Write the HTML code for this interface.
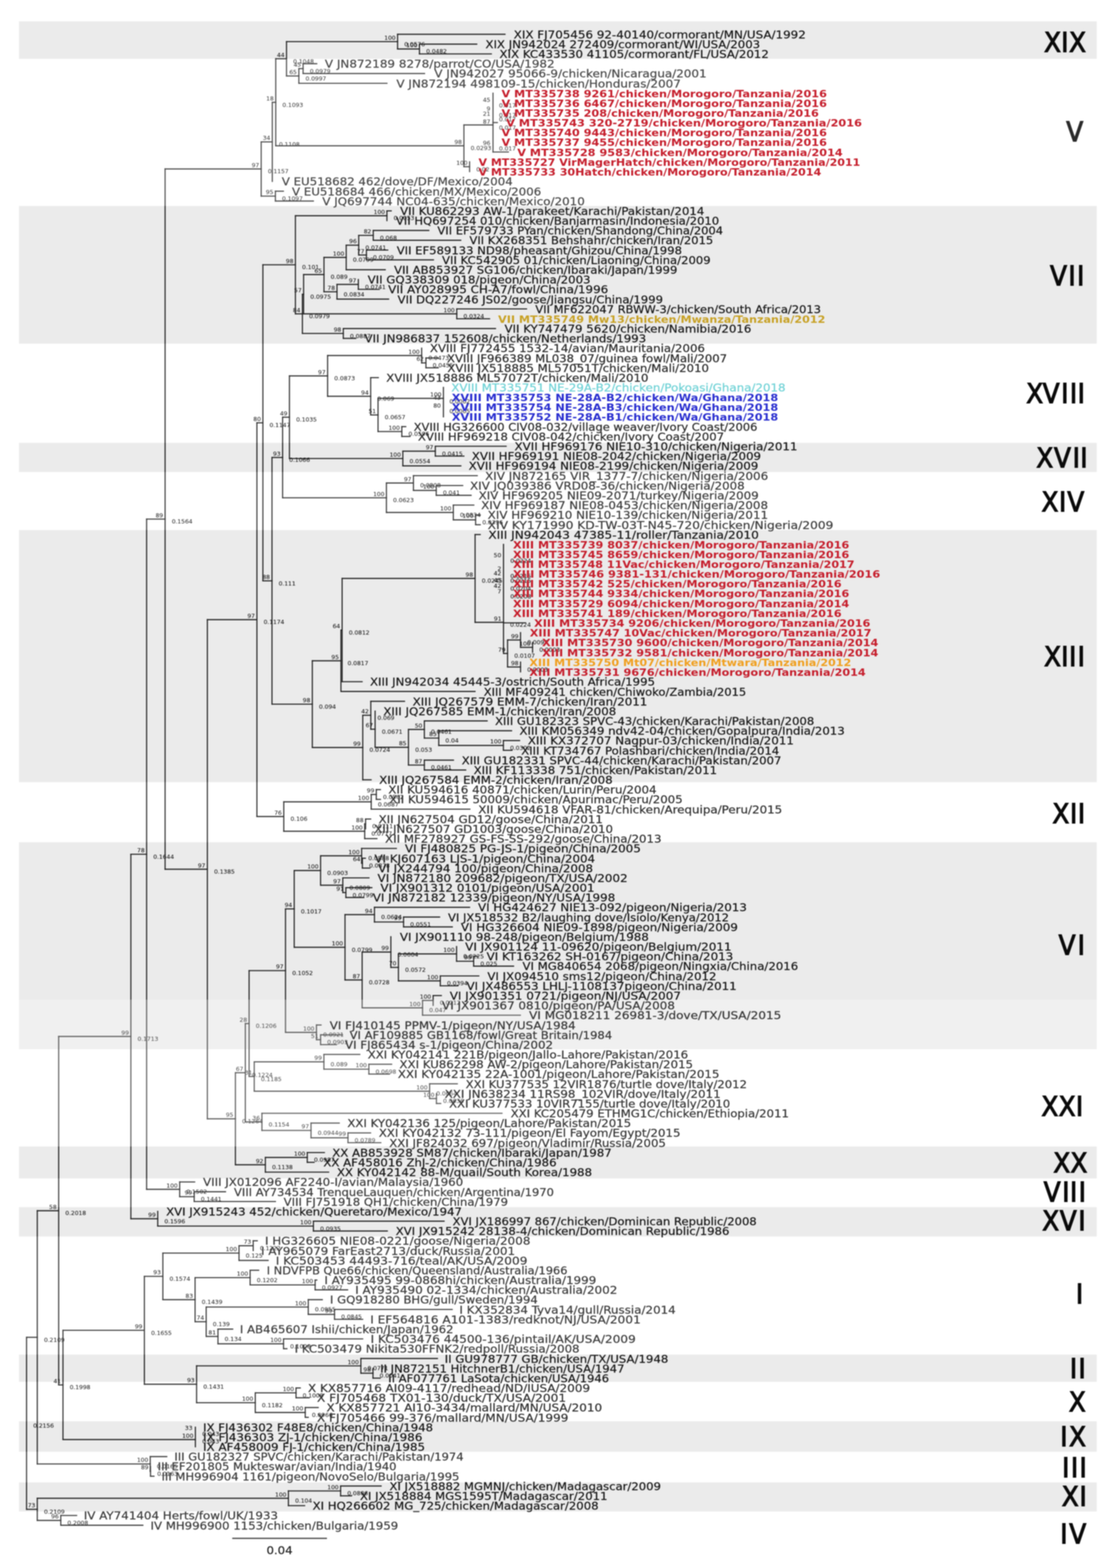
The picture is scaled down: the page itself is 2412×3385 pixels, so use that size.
<!DOCTYPE html>
<html lang="en"><head><meta charset="utf-8"><title>Phylogenetic tree</title>
<style>html,body{margin:0;padding:0;background:#fff}body{width:2412px;height:3385px;overflow:hidden}svg{display:block}
text{font-family:"DejaVu Sans","Liberation Sans",sans-serif}.g text{font-family:"DejaVu Sans Condensed","DejaVu Sans","Liberation Sans",sans-serif}
.l{font-size:22.2px;stroke-width:0.5px}.b{font-size:21.4px;font-weight:bold}.s{font-size:12.8px;fill:#1c1c1c;stroke:#1c1c1c;stroke-width:0.15px}.g{font-size:59.2px;fill:#0a0a0a;stroke:#0a0a0a;stroke-width:2.1px;stroke-linejoin:miter}
.t line{stroke:#222;stroke-width:2.4;stroke-linecap:square}
</style></head><body>
<svg width="2412" height="3385" viewBox="0 0 2412 3385">
<defs><filter id="bl" x="-8" y="-8" width="2428" height="3401" filterUnits="userSpaceOnUse" color-interpolation-filters="sRGB"><feGaussianBlur stdDeviation="0.8"/></filter></defs>
<g filter="url(#bl)">
<rect x="-8" y="-8" width="2428" height="3401" fill="#fff"/>
<g>
<rect x="41" y="46" width="2327.2" height="81" fill="#ebebeb"/>
<rect x="41" y="444.6" width="2327.2" height="297.2" fill="#ebebeb"/>
<rect x="41" y="956" width="2327.2" height="63" fill="#ebebeb"/>
<rect x="41" y="1144.3" width="2327.2" height="544.2" fill="#ebebeb"/>
<rect x="41" y="1818.3" width="2327.2" height="446.7" fill="#ebebeb"/>
<rect x="41" y="2475" width="2327.2" height="69" fill="#ebebeb"/>
<rect x="41" y="2606" width="2327.2" height="63.3" fill="#ebebeb"/>
<rect x="41" y="2924.3" width="2327.2" height="58.7" fill="#ebebeb"/>
<rect x="41" y="3068.3" width="2327.2" height="65.7" fill="#ebebeb"/>
<rect x="41" y="3200.3" width="2327.2" height="62.7" fill="#ebebeb"/>
</g>
<g class="t">
<line x1="57.3" y1="2887.0" x2="57.3" y2="3258.3"/>
<line x1="57.3" y1="2887.0" x2="80.5" y2="2887.0"/>
<line x1="80.5" y1="2613.7" x2="80.5" y2="3160.4"/>
<line x1="80.5" y1="2613.7" x2="126.7" y2="2613.7"/>
<line x1="126.7" y1="2237.5" x2="126.7" y2="2989.8"/>
<line x1="126.7" y1="2237.5" x2="282.6" y2="2237.5"/>
<line x1="282.6" y1="1844.1" x2="282.6" y2="2631.0"/>
<line x1="282.6" y1="1844.1" x2="316.6" y2="1844.1"/>
<line x1="316.6" y1="1120.6" x2="316.6" y2="2567.5"/>
<line x1="316.6" y1="1120.6" x2="356.5" y2="1120.6"/>
<line x1="356.5" y1="364.8" x2="356.5" y2="1876.5"/>
<line x1="356.5" y1="364.8" x2="564.0" y2="364.8"/>
<line x1="564.0" y1="306.3" x2="564.0" y2="423.4"/>
<line x1="564.0" y1="306.3" x2="588.0" y2="306.3"/>
<line x1="588.0" y1="220.9" x2="588.0" y2="391.6"/>
<line x1="588.0" y1="220.9" x2="595.4" y2="220.9"/>
<line x1="595.4" y1="126.9" x2="595.4" y2="314.8"/>
<line x1="595.4" y1="126.9" x2="618.7" y2="126.9"/>
<line x1="618.7" y1="89.9" x2="618.7" y2="164.0"/>
<line x1="618.7" y1="89.9" x2="858.5" y2="89.9"/>
<line x1="858.5" y1="74.0" x2="858.5" y2="105.8"/>
<line x1="858.5" y1="74.0" x2="1090.5" y2="74.0"/>
<line x1="858.5" y1="105.8" x2="905.8" y2="105.8"/>
<line x1="905.8" y1="95.2" x2="905.8" y2="116.4"/>
<line x1="905.8" y1="95.2" x2="1029.5" y2="95.2"/>
<line x1="905.8" y1="116.4" x2="1061.0" y2="116.4"/>
<line x1="618.7" y1="164.0" x2="645.3" y2="164.0"/>
<line x1="645.3" y1="148.1" x2="645.3" y2="179.9"/>
<line x1="645.3" y1="148.1" x2="654.5" y2="148.1"/>
<line x1="654.5" y1="137.5" x2="654.5" y2="158.7"/>
<line x1="654.5" y1="137.5" x2="684.0" y2="137.5"/>
<line x1="654.5" y1="158.7" x2="916.8" y2="158.7"/>
<line x1="645.3" y1="179.9" x2="835.6" y2="179.9"/>
<line x1="595.4" y1="314.8" x2="1001.8" y2="314.8"/>
<line x1="1001.8" y1="269.8" x2="1001.8" y2="359.9"/>
<line x1="1001.8" y1="269.8" x2="1064.6" y2="269.8"/>
<line x1="1064.6" y1="201.1" x2="1064.6" y2="328.1"/>
<line x1="1064.6" y1="264.6" x2="1074.0" y2="264.6"/>
<line x1="1064.6" y1="328.1" x2="1097.8" y2="328.1"/>
<line x1="1001.8" y1="359.9" x2="1014.0" y2="359.9"/>
<line x1="1014.0" y1="349.3" x2="1014.0" y2="370.5"/>
<line x1="564.0" y1="423.4" x2="594.7" y2="423.4"/>
<line x1="594.7" y1="412.8" x2="594.7" y2="434.0"/>
<line x1="594.7" y1="412.8" x2="612.0" y2="412.8"/>
<line x1="594.7" y1="434.0" x2="676.7" y2="434.0"/>
<line x1="356.5" y1="1876.5" x2="447.8" y2="1876.5"/>
<line x1="447.8" y1="1337.8" x2="447.8" y2="2415.2"/>
<line x1="447.8" y1="1337.8" x2="554.8" y2="1337.8"/>
<line x1="554.8" y1="912.8" x2="554.8" y2="1762.8"/>
<line x1="554.8" y1="912.8" x2="567.7" y2="912.8"/>
<line x1="567.7" y1="571.6" x2="567.7" y2="1253.9"/>
<line x1="567.7" y1="571.6" x2="637.9" y2="571.6"/>
<line x1="637.9" y1="465.8" x2="637.9" y2="677.5"/>
<line x1="637.9" y1="465.8" x2="835.5" y2="465.8"/>
<line x1="835.5" y1="455.2" x2="835.5" y2="476.3"/>
<line x1="835.5" y1="455.2" x2="844.8" y2="455.2"/>
<line x1="637.9" y1="677.5" x2="653.0" y2="677.5"/>
<line x1="653.0" y1="635.2" x2="653.0" y2="719.9"/>
<line x1="653.0" y1="635.2" x2="655.6" y2="635.2"/>
<line x1="655.6" y1="592.8" x2="655.6" y2="677.5"/>
<line x1="655.6" y1="592.8" x2="699.6" y2="592.8"/>
<line x1="699.6" y1="555.8" x2="699.6" y2="629.9"/>
<line x1="699.6" y1="555.8" x2="747.6" y2="555.8"/>
<line x1="747.6" y1="529.3" x2="747.6" y2="582.2"/>
<line x1="747.6" y1="529.3" x2="774.6" y2="529.3"/>
<line x1="774.6" y1="508.1" x2="774.6" y2="550.5"/>
<line x1="774.6" y1="508.1" x2="806.0" y2="508.1"/>
<line x1="806.0" y1="497.5" x2="806.0" y2="518.7"/>
<line x1="806.0" y1="497.5" x2="926.0" y2="497.5"/>
<line x1="806.0" y1="518.7" x2="995.0" y2="518.7"/>
<line x1="774.6" y1="550.5" x2="791.2" y2="550.5"/>
<line x1="791.2" y1="539.9" x2="791.2" y2="561.0"/>
<line x1="791.2" y1="539.9" x2="837.4" y2="539.9"/>
<line x1="791.2" y1="561.0" x2="936.0" y2="561.0"/>
<line x1="747.6" y1="582.2" x2="831.9" y2="582.2"/>
<line x1="699.6" y1="629.9" x2="727.7" y2="629.9"/>
<line x1="727.7" y1="614.0" x2="727.7" y2="645.8"/>
<line x1="727.7" y1="614.0" x2="773.8" y2="614.0"/>
<line x1="773.8" y1="603.4" x2="773.8" y2="624.6"/>
<line x1="773.8" y1="624.6" x2="819.0" y2="624.6"/>
<line x1="727.7" y1="645.8" x2="839.2" y2="645.8"/>
<line x1="655.6" y1="677.5" x2="986.3" y2="677.5"/>
<line x1="986.3" y1="666.9" x2="986.3" y2="688.1"/>
<line x1="986.3" y1="666.9" x2="1137.0" y2="666.9"/>
<line x1="986.3" y1="688.1" x2="1057.2" y2="688.1"/>
<line x1="653.0" y1="719.9" x2="741.3" y2="719.9"/>
<line x1="741.3" y1="709.3" x2="741.3" y2="730.5"/>
<line x1="741.3" y1="709.3" x2="1070.0" y2="709.3"/>
<line x1="741.3" y1="730.5" x2="768.3" y2="730.5"/>
<line x1="567.7" y1="1253.9" x2="587.3" y2="1253.9"/>
<line x1="587.3" y1="987.6" x2="587.3" y2="1520.1"/>
<line x1="587.3" y1="987.6" x2="610.2" y2="987.6"/>
<line x1="610.2" y1="900.7" x2="610.2" y2="1074.6"/>
<line x1="610.2" y1="900.7" x2="625.0" y2="900.7"/>
<line x1="625.0" y1="811.5" x2="625.0" y2="989.9"/>
<line x1="625.0" y1="811.5" x2="707.4" y2="811.5"/>
<line x1="707.4" y1="767.5" x2="707.4" y2="855.5"/>
<line x1="707.4" y1="767.5" x2="910.5" y2="767.5"/>
<line x1="910.5" y1="751.6" x2="910.5" y2="783.4"/>
<line x1="910.5" y1="783.4" x2="919.8" y2="783.4"/>
<line x1="919.8" y1="772.8" x2="919.8" y2="794.0"/>
<line x1="919.8" y1="772.8" x2="946.4" y2="772.8"/>
<line x1="919.8" y1="794.0" x2="946.4" y2="794.0"/>
<line x1="707.4" y1="855.5" x2="800.4" y2="855.5"/>
<line x1="800.4" y1="815.2" x2="800.4" y2="895.8"/>
<line x1="800.4" y1="815.2" x2="817.0" y2="815.2"/>
<line x1="800.4" y1="895.8" x2="816.3" y2="895.8"/>
<line x1="816.3" y1="860.0" x2="816.3" y2="931.6"/>
<line x1="816.3" y1="860.0" x2="957.5" y2="860.0"/>
<line x1="957.5" y1="836.3" x2="957.5" y2="899.9"/>
<line x1="816.3" y1="931.6" x2="867.7" y2="931.6"/>
<line x1="867.7" y1="921.0" x2="867.7" y2="942.2"/>
<line x1="867.7" y1="921.0" x2="876.2" y2="921.0"/>
<line x1="867.7" y1="942.2" x2="885.4" y2="942.2"/>
<line x1="625.0" y1="989.9" x2="869.9" y2="989.9"/>
<line x1="869.9" y1="974.0" x2="869.9" y2="1005.7"/>
<line x1="869.9" y1="974.0" x2="940.0" y2="974.0"/>
<line x1="940.0" y1="963.4" x2="940.0" y2="984.6"/>
<line x1="940.0" y1="963.4" x2="1093.0" y2="963.4"/>
<line x1="940.0" y1="984.6" x2="1001.8" y2="984.6"/>
<line x1="869.9" y1="1005.7" x2="995.2" y2="1005.7"/>
<line x1="610.2" y1="1074.6" x2="834.4" y2="1074.6"/>
<line x1="834.4" y1="1042.8" x2="834.4" y2="1106.3"/>
<line x1="834.4" y1="1042.8" x2="892.8" y2="1042.8"/>
<line x1="892.8" y1="1026.9" x2="892.8" y2="1058.7"/>
<line x1="892.8" y1="1026.9" x2="1030.6" y2="1026.9"/>
<line x1="892.8" y1="1058.7" x2="942.0" y2="1058.7"/>
<line x1="942.0" y1="1048.1" x2="942.0" y2="1069.3"/>
<line x1="942.0" y1="1048.1" x2="999.2" y2="1048.1"/>
<line x1="942.0" y1="1069.3" x2="1017.3" y2="1069.3"/>
<line x1="834.4" y1="1106.3" x2="978.9" y2="1106.3"/>
<line x1="978.9" y1="1090.4" x2="978.9" y2="1122.2"/>
<line x1="978.9" y1="1090.4" x2="1023.2" y2="1090.4"/>
<line x1="978.9" y1="1122.2" x2="1027.0" y2="1122.2"/>
<line x1="1027.0" y1="1111.6" x2="1027.0" y2="1132.8"/>
<line x1="1027.0" y1="1111.6" x2="1037.0" y2="1111.6"/>
<line x1="1027.0" y1="1132.8" x2="1037.0" y2="1132.8"/>
<line x1="587.3" y1="1520.1" x2="674.4" y2="1520.1"/>
<line x1="674.4" y1="1426.5" x2="674.4" y2="1613.7"/>
<line x1="674.4" y1="1426.5" x2="736.2" y2="1426.5"/>
<line x1="736.2" y1="1360.2" x2="736.2" y2="1492.8"/>
<line x1="736.2" y1="1360.2" x2="738.8" y2="1360.2"/>
<line x1="738.8" y1="1248.7" x2="738.8" y2="1471.6"/>
<line x1="738.8" y1="1248.7" x2="1025.9" y2="1248.7"/>
<line x1="1025.9" y1="1154.0" x2="1025.9" y2="1343.5"/>
<line x1="1025.9" y1="1154.0" x2="1037.0" y2="1154.0"/>
<line x1="1025.9" y1="1343.5" x2="1087.2" y2="1343.5"/>
<line x1="1087.2" y1="1175.2" x2="1087.2" y2="1410.7"/>
<line x1="1087.2" y1="1344.6" x2="1135.0" y2="1344.6"/>
<line x1="1087.2" y1="1410.7" x2="1096.0" y2="1410.7"/>
<line x1="1096.0" y1="1381.6" x2="1096.0" y2="1439.9"/>
<line x1="1096.0" y1="1381.6" x2="1124.0" y2="1381.6"/>
<line x1="1124.0" y1="1365.7" x2="1124.0" y2="1397.5"/>
<line x1="1124.0" y1="1397.5" x2="1150.0" y2="1397.5"/>
<line x1="1150.0" y1="1386.9" x2="1150.0" y2="1408.1"/>
<line x1="1096.0" y1="1439.9" x2="1124.0" y2="1439.9"/>
<line x1="1124.0" y1="1429.3" x2="1124.0" y2="1450.4"/>
<line x1="738.8" y1="1471.6" x2="782.0" y2="1471.6"/>
<line x1="736.2" y1="1492.8" x2="1025.8" y2="1492.8"/>
<line x1="674.4" y1="1613.7" x2="783.3" y2="1613.7"/>
<line x1="783.3" y1="1544.1" x2="783.3" y2="1683.4"/>
<line x1="783.3" y1="1544.1" x2="800.7" y2="1544.1"/>
<line x1="800.7" y1="1514.0" x2="800.7" y2="1574.2"/>
<line x1="800.7" y1="1514.0" x2="873.5" y2="1514.0"/>
<line x1="800.7" y1="1574.2" x2="810.0" y2="1574.2"/>
<line x1="810.0" y1="1535.1" x2="810.0" y2="1613.2"/>
<line x1="810.0" y1="1613.2" x2="882.0" y2="1613.2"/>
<line x1="882.0" y1="1574.8" x2="882.0" y2="1651.6"/>
<line x1="882.0" y1="1574.8" x2="916.3" y2="1574.8"/>
<line x1="916.3" y1="1556.3" x2="916.3" y2="1593.4"/>
<line x1="916.3" y1="1556.3" x2="1052.0" y2="1556.3"/>
<line x1="916.3" y1="1593.4" x2="947.4" y2="1593.4"/>
<line x1="947.4" y1="1577.5" x2="947.4" y2="1609.3"/>
<line x1="947.4" y1="1577.5" x2="1104.7" y2="1577.5"/>
<line x1="947.4" y1="1609.3" x2="1087.0" y2="1609.3"/>
<line x1="1087.0" y1="1598.7" x2="1087.0" y2="1619.8"/>
<line x1="1087.0" y1="1598.7" x2="1122.0" y2="1598.7"/>
<line x1="1087.0" y1="1619.8" x2="1105.5" y2="1619.8"/>
<line x1="882.0" y1="1651.6" x2="916.3" y2="1651.6"/>
<line x1="916.3" y1="1641.0" x2="916.3" y2="1662.2"/>
<line x1="916.3" y1="1641.0" x2="979.2" y2="1641.0"/>
<line x1="916.3" y1="1662.2" x2="1005.7" y2="1662.2"/>
<line x1="783.3" y1="1683.4" x2="801.4" y2="1683.4"/>
<line x1="554.8" y1="1762.8" x2="612.8" y2="1762.8"/>
<line x1="612.8" y1="1731.0" x2="612.8" y2="1794.5"/>
<line x1="612.8" y1="1731.0" x2="801.6" y2="1731.0"/>
<line x1="801.6" y1="1715.1" x2="801.6" y2="1746.9"/>
<line x1="801.6" y1="1715.1" x2="812.6" y2="1715.1"/>
<line x1="812.6" y1="1704.6" x2="812.6" y2="1725.7"/>
<line x1="812.6" y1="1704.6" x2="821.5" y2="1704.6"/>
<line x1="812.6" y1="1725.7" x2="821.5" y2="1725.7"/>
<line x1="801.6" y1="1746.9" x2="1014.7" y2="1746.9"/>
<line x1="612.8" y1="1794.5" x2="787.5" y2="1794.5"/>
<line x1="787.5" y1="1778.7" x2="787.5" y2="1810.4"/>
<line x1="787.5" y1="1778.7" x2="789.4" y2="1778.7"/>
<line x1="789.4" y1="1768.1" x2="789.4" y2="1789.3"/>
<line x1="789.4" y1="1768.1" x2="800.4" y2="1768.1"/>
<line x1="787.5" y1="1810.4" x2="814.0" y2="1810.4"/>
<line x1="447.8" y1="2415.2" x2="508.3" y2="2415.2"/>
<line x1="508.3" y1="2315.8" x2="508.3" y2="2514.5"/>
<line x1="508.3" y1="2315.8" x2="529.8" y2="2315.8"/>
<line x1="529.8" y1="2209.7" x2="529.8" y2="2421.9"/>
<line x1="529.8" y1="2209.7" x2="537.9" y2="2209.7"/>
<line x1="537.9" y1="2095.4" x2="537.9" y2="2323.9"/>
<line x1="537.9" y1="2095.4" x2="616.5" y2="2095.4"/>
<line x1="616.5" y1="1962.1" x2="616.5" y2="2228.7"/>
<line x1="616.5" y1="1962.1" x2="635.3" y2="1962.1"/>
<line x1="635.3" y1="1879.3" x2="635.3" y2="2045.0"/>
<line x1="635.3" y1="1879.3" x2="692.2" y2="1879.3"/>
<line x1="692.2" y1="1847.5" x2="692.2" y2="1911.0"/>
<line x1="692.2" y1="1847.5" x2="780.9" y2="1847.5"/>
<line x1="780.9" y1="1831.6" x2="780.9" y2="1863.4"/>
<line x1="780.9" y1="1831.6" x2="855.9" y2="1831.6"/>
<line x1="780.9" y1="1863.4" x2="782.5" y2="1863.4"/>
<line x1="782.5" y1="1852.8" x2="782.5" y2="1874.0"/>
<line x1="782.5" y1="1852.8" x2="789.0" y2="1852.8"/>
<line x1="782.5" y1="1874.0" x2="798.6" y2="1874.0"/>
<line x1="692.2" y1="1911.0" x2="740.2" y2="1911.0"/>
<line x1="740.2" y1="1895.1" x2="740.2" y2="1926.9"/>
<line x1="740.2" y1="1895.1" x2="796.8" y2="1895.1"/>
<line x1="740.2" y1="1926.9" x2="746.9" y2="1926.9"/>
<line x1="746.9" y1="1916.3" x2="746.9" y2="1937.5"/>
<line x1="746.9" y1="1916.3" x2="803.0" y2="1916.3"/>
<line x1="746.9" y1="1937.5" x2="785.7" y2="1937.5"/>
<line x1="635.3" y1="2045.0" x2="745.0" y2="2045.0"/>
<line x1="745.0" y1="1974.5" x2="745.0" y2="2115.5"/>
<line x1="745.0" y1="1974.5" x2="808.6" y2="1974.5"/>
<line x1="808.6" y1="1958.7" x2="808.6" y2="1990.4"/>
<line x1="808.6" y1="1958.7" x2="1014.0" y2="1958.7"/>
<line x1="808.6" y1="1990.4" x2="871.4" y2="1990.4"/>
<line x1="871.4" y1="1979.8" x2="871.4" y2="2001.0"/>
<line x1="871.4" y1="1979.8" x2="949.3" y2="1979.8"/>
<line x1="871.4" y1="2001.0" x2="976.7" y2="2001.0"/>
<line x1="745.0" y1="2115.5" x2="782.0" y2="2115.5"/>
<line x1="782.0" y1="2055.3" x2="782.0" y2="2175.7"/>
<line x1="782.0" y1="2055.3" x2="844.0" y2="2055.3"/>
<line x1="844.0" y1="2022.2" x2="844.0" y2="2088.4"/>
<line x1="844.0" y1="2088.4" x2="860.3" y2="2088.4"/>
<line x1="860.3" y1="2059.2" x2="860.3" y2="2117.5"/>
<line x1="860.3" y1="2059.2" x2="985.9" y2="2059.2"/>
<line x1="985.9" y1="2043.4" x2="985.9" y2="2075.1"/>
<line x1="985.9" y1="2075.1" x2="1022.8" y2="2075.1"/>
<line x1="1022.8" y1="2064.5" x2="1022.8" y2="2085.7"/>
<line x1="1022.8" y1="2064.5" x2="1031.3" y2="2064.5"/>
<line x1="1022.8" y1="2085.7" x2="1109.0" y2="2085.7"/>
<line x1="860.3" y1="2117.5" x2="950.8" y2="2117.5"/>
<line x1="950.8" y1="2106.9" x2="950.8" y2="2128.1"/>
<line x1="950.8" y1="2106.9" x2="1034.0" y2="2106.9"/>
<line x1="950.8" y1="2128.1" x2="988.9" y2="2128.1"/>
<line x1="782.0" y1="2175.7" x2="912.4" y2="2175.7"/>
<line x1="912.4" y1="2159.8" x2="912.4" y2="2191.6"/>
<line x1="912.4" y1="2159.8" x2="935.3" y2="2159.8"/>
<line x1="935.3" y1="2149.2" x2="935.3" y2="2170.4"/>
<line x1="935.3" y1="2149.2" x2="953.0" y2="2149.2"/>
<line x1="912.4" y1="2191.6" x2="1123.7" y2="2191.6"/>
<line x1="616.5" y1="2228.7" x2="683.3" y2="2228.7"/>
<line x1="683.3" y1="2212.8" x2="683.3" y2="2244.5"/>
<line x1="683.3" y1="2212.8" x2="693.3" y2="2212.8"/>
<line x1="683.3" y1="2244.5" x2="692.2" y2="2244.5"/>
<line x1="692.2" y1="2234.0" x2="692.2" y2="2255.1"/>
<line x1="692.2" y1="2234.0" x2="739.5" y2="2234.0"/>
<line x1="692.2" y1="2255.1" x2="726.6" y2="2255.1"/>
<line x1="537.9" y1="2323.9" x2="549.0" y2="2323.9"/>
<line x1="549.0" y1="2292.2" x2="549.0" y2="2355.7"/>
<line x1="549.0" y1="2292.2" x2="699.4" y2="2292.2"/>
<line x1="699.4" y1="2276.3" x2="699.4" y2="2308.1"/>
<line x1="699.4" y1="2276.3" x2="777.0" y2="2276.3"/>
<line x1="699.4" y1="2308.1" x2="796.5" y2="2308.1"/>
<line x1="796.5" y1="2297.5" x2="796.5" y2="2318.7"/>
<line x1="796.5" y1="2297.5" x2="845.7" y2="2297.5"/>
<line x1="796.5" y1="2318.7" x2="840.9" y2="2318.7"/>
<line x1="549.0" y1="2355.7" x2="927.7" y2="2355.7"/>
<line x1="927.7" y1="2339.8" x2="927.7" y2="2371.6"/>
<line x1="927.7" y1="2339.8" x2="987.5" y2="2339.8"/>
<line x1="927.7" y1="2371.6" x2="942.4" y2="2371.6"/>
<line x1="942.4" y1="2361.0" x2="942.4" y2="2382.2"/>
<line x1="942.4" y1="2382.2" x2="951.7" y2="2382.2"/>
<line x1="529.8" y1="2421.9" x2="565.6" y2="2421.9"/>
<line x1="565.6" y1="2403.4" x2="565.6" y2="2440.4"/>
<line x1="565.6" y1="2403.4" x2="1084.0" y2="2403.4"/>
<line x1="565.6" y1="2440.4" x2="671.6" y2="2440.4"/>
<line x1="671.6" y1="2424.5" x2="671.6" y2="2456.3"/>
<line x1="671.6" y1="2424.5" x2="732.6" y2="2424.5"/>
<line x1="671.6" y1="2456.3" x2="751.4" y2="2456.3"/>
<line x1="751.4" y1="2445.7" x2="751.4" y2="2466.9"/>
<line x1="751.4" y1="2445.7" x2="800.2" y2="2445.7"/>
<line x1="751.4" y1="2466.9" x2="822.4" y2="2466.9"/>
<line x1="508.3" y1="2514.5" x2="573.0" y2="2514.5"/>
<line x1="573.0" y1="2498.7" x2="573.0" y2="2530.4"/>
<line x1="573.0" y1="2498.7" x2="663.5" y2="2498.7"/>
<line x1="663.5" y1="2488.1" x2="663.5" y2="2509.2"/>
<line x1="663.5" y1="2488.1" x2="700.5" y2="2488.1"/>
<line x1="663.5" y1="2509.2" x2="678.3" y2="2509.2"/>
<line x1="573.0" y1="2530.4" x2="709.7" y2="2530.4"/>
<line x1="316.6" y1="2567.5" x2="388.0" y2="2567.5"/>
<line x1="388.0" y1="2551.6" x2="388.0" y2="2583.4"/>
<line x1="388.0" y1="2551.6" x2="420.4" y2="2551.6"/>
<line x1="388.0" y1="2583.4" x2="419.3" y2="2583.4"/>
<line x1="419.3" y1="2572.8" x2="419.3" y2="2593.9"/>
<line x1="419.3" y1="2572.8" x2="487.0" y2="2572.8"/>
<line x1="419.3" y1="2593.9" x2="594.8" y2="2593.9"/>
<line x1="282.6" y1="2631.0" x2="340.6" y2="2631.0"/>
<line x1="340.6" y1="2615.1" x2="340.6" y2="2646.9"/>
<line x1="340.6" y1="2646.9" x2="676.8" y2="2646.9"/>
<line x1="676.8" y1="2636.3" x2="676.8" y2="2657.5"/>
<line x1="676.8" y1="2636.3" x2="959.0" y2="2636.3"/>
<line x1="676.8" y1="2657.5" x2="836.4" y2="2657.5"/>
<line x1="126.7" y1="2989.8" x2="136.0" y2="2989.8"/>
<line x1="136.0" y1="2871.9" x2="136.0" y2="3107.8"/>
<line x1="136.0" y1="2871.9" x2="311.8" y2="2871.9"/>
<line x1="311.8" y1="2755.4" x2="311.8" y2="2988.3"/>
<line x1="311.8" y1="2755.4" x2="351.7" y2="2755.4"/>
<line x1="351.7" y1="2705.1" x2="351.7" y2="2805.7"/>
<line x1="351.7" y1="2705.1" x2="516.1" y2="2705.1"/>
<line x1="516.1" y1="2689.2" x2="516.1" y2="2721.0"/>
<line x1="516.1" y1="2689.2" x2="546.8" y2="2689.2"/>
<line x1="546.8" y1="2678.6" x2="546.8" y2="2699.8"/>
<line x1="546.8" y1="2678.6" x2="555.6" y2="2678.6"/>
<line x1="516.1" y1="2721.0" x2="579.0" y2="2721.0"/>
<line x1="351.7" y1="2805.7" x2="421.2" y2="2805.7"/>
<line x1="421.2" y1="2758.1" x2="421.2" y2="2853.3"/>
<line x1="421.2" y1="2758.1" x2="540.1" y2="2758.1"/>
<line x1="540.1" y1="2742.2" x2="540.1" y2="2773.9"/>
<line x1="540.1" y1="2742.2" x2="558.6" y2="2742.2"/>
<line x1="540.1" y1="2773.9" x2="680.5" y2="2773.9"/>
<line x1="680.5" y1="2763.4" x2="680.5" y2="2784.5"/>
<line x1="680.5" y1="2763.4" x2="684.2" y2="2763.4"/>
<line x1="680.5" y1="2784.5" x2="750.7" y2="2784.5"/>
<line x1="421.2" y1="2853.3" x2="445.2" y2="2853.3"/>
<line x1="445.2" y1="2821.6" x2="445.2" y2="2885.1"/>
<line x1="445.2" y1="2821.6" x2="665.7" y2="2821.6"/>
<line x1="665.7" y1="2805.7" x2="665.7" y2="2837.5"/>
<line x1="665.7" y1="2805.7" x2="696.0" y2="2805.7"/>
<line x1="665.7" y1="2837.5" x2="722.3" y2="2837.5"/>
<line x1="722.3" y1="2826.9" x2="722.3" y2="2848.1"/>
<line x1="722.3" y1="2826.9" x2="976.5" y2="2826.9"/>
<line x1="722.3" y1="2848.1" x2="783.2" y2="2848.1"/>
<line x1="445.2" y1="2885.1" x2="470.7" y2="2885.1"/>
<line x1="470.7" y1="2869.2" x2="470.7" y2="2901.0"/>
<line x1="470.7" y1="2869.2" x2="502.5" y2="2869.2"/>
<line x1="470.7" y1="2901.0" x2="612.2" y2="2901.0"/>
<line x1="612.2" y1="2890.4" x2="612.2" y2="2911.6"/>
<line x1="612.2" y1="2890.4" x2="783.2" y2="2890.4"/>
<line x1="612.2" y1="2911.6" x2="619.6" y2="2911.6"/>
<line x1="311.8" y1="2988.3" x2="424.5" y2="2988.3"/>
<line x1="424.5" y1="2948.6" x2="424.5" y2="3028.1"/>
<line x1="424.5" y1="2948.6" x2="779.2" y2="2948.6"/>
<line x1="779.2" y1="2932.8" x2="779.2" y2="2964.5"/>
<line x1="779.2" y1="2932.8" x2="944.6" y2="2932.8"/>
<line x1="779.2" y1="2964.5" x2="805.4" y2="2964.5"/>
<line x1="805.4" y1="2953.9" x2="805.4" y2="2975.1"/>
<line x1="805.4" y1="2975.1" x2="821.0" y2="2975.1"/>
<line x1="424.5" y1="3028.1" x2="551.2" y2="3028.1"/>
<line x1="551.2" y1="3006.9" x2="551.2" y2="3049.2"/>
<line x1="551.2" y1="3006.9" x2="639.2" y2="3006.9"/>
<line x1="639.2" y1="2996.3" x2="639.2" y2="3017.5"/>
<line x1="639.2" y1="2996.3" x2="648.4" y2="2996.3"/>
<line x1="639.2" y1="3017.5" x2="667.6" y2="3017.5"/>
<line x1="551.2" y1="3049.2" x2="659.1" y2="3049.2"/>
<line x1="659.1" y1="3038.6" x2="659.1" y2="3059.8"/>
<line x1="659.1" y1="3038.6" x2="687.2" y2="3038.6"/>
<line x1="659.1" y1="3059.8" x2="665.7" y2="3059.8"/>
<line x1="136.0" y1="3107.8" x2="421.9" y2="3107.8"/>
<line x1="421.9" y1="3081.0" x2="421.9" y2="3123.3"/>
<line x1="80.5" y1="3160.4" x2="324.4" y2="3160.4"/>
<line x1="324.4" y1="3144.5" x2="324.4" y2="3176.3"/>
<line x1="324.4" y1="3144.5" x2="360.2" y2="3144.5"/>
<line x1="324.4" y1="3176.3" x2="325.0" y2="3176.3"/>
<line x1="325.0" y1="3165.7" x2="325.0" y2="3186.9"/>
<line x1="325.0" y1="3186.9" x2="332.5" y2="3186.9"/>
<line x1="57.3" y1="3258.3" x2="80.5" y2="3258.3"/>
<line x1="80.5" y1="3234.5" x2="80.5" y2="3282.2"/>
<line x1="80.5" y1="3234.5" x2="622.8" y2="3234.5"/>
<line x1="622.8" y1="3218.6" x2="622.8" y2="3250.4"/>
<line x1="622.8" y1="3218.6" x2="735.5" y2="3218.6"/>
<line x1="735.5" y1="3208.0" x2="735.5" y2="3229.2"/>
<line x1="735.5" y1="3208.0" x2="823.0" y2="3208.0"/>
<line x1="735.5" y1="3229.2" x2="759.1" y2="3229.2"/>
<line x1="622.8" y1="3250.4" x2="657.9" y2="3250.4"/>
<line x1="80.5" y1="3282.2" x2="131.2" y2="3282.2"/>
<line x1="131.2" y1="3271.6" x2="131.2" y2="3292.8"/>
<line x1="131.2" y1="3271.6" x2="165.5" y2="3271.6"/>
<line x1="131.2" y1="3292.8" x2="308.5" y2="3292.8"/>
<line x1="502.7" y1="3321" x2="704.8" y2="3321"/>
</g>
<g class="s">
<text x="901.5" y="101.8" text-anchor="end">100</text>
<text x="920.2" y="115.4">0.0482</text>
<text x="854.2" y="85.9" text-anchor="end">100</text>
<text x="872.9" y="99.5">0.0576</text>
<text x="650.2" y="144.1" text-anchor="end">45</text>
<text x="668.9" y="157.7">0.0979</text>
<text x="641.0" y="160.0" text-anchor="end">65</text>
<text x="659.7" y="173.6">0.0997</text>
<text x="614.4" y="122.9" text-anchor="end">44</text>
<text x="633.1" y="136.5">0.1048</text>
<text x="1009.7" y="355.9" text-anchor="end">100</text>
<text x="1028.4" y="369.5">0.02</text>
<text x="997.5" y="310.8" text-anchor="end">98</text>
<text x="1016.2" y="324.4">0.0293</text>
<text x="591.1" y="216.9" text-anchor="end">18</text>
<text x="609.8" y="230.5">0.1093</text>
<text x="583.7" y="302.3" text-anchor="end">34</text>
<text x="602.4" y="315.9">0.1108</text>
<text x="590.4" y="419.4" text-anchor="end">95</text>
<text x="609.1" y="433.0">0.1097</text>
<text x="559.7" y="360.8" text-anchor="end">97</text>
<text x="578.4" y="374.4">0.1157</text>
<text x="831.2" y="461.8" text-anchor="end">100</text>
<text x="849.9" y="475.4">0.0053</text>
<text x="801.7" y="504.1" text-anchor="end">82</text>
<text x="820.4" y="517.7">0.068</text>
<text x="786.9" y="546.5" text-anchor="end">77</text>
<text x="805.6" y="560.1">0.0709</text>
<text x="770.3" y="525.3" text-anchor="end">96</text>
<text x="789.0" y="538.9">0.0741</text>
<text x="743.3" y="551.8" text-anchor="end">100</text>
<text x="762.0" y="565.4">0.0799</text>
<text x="769.5" y="610.0" text-anchor="end">97</text>
<text x="788.2" y="623.6">0.0741</text>
<text x="723.4" y="625.9" text-anchor="end">78</text>
<text x="742.1" y="639.5">0.0834</text>
<text x="695.3" y="588.8" text-anchor="end">65</text>
<text x="714.0" y="602.4">0.089</text>
<text x="982.0" y="673.5" text-anchor="end">100</text>
<text x="1000.7" y="687.1">0.0324</text>
<text x="651.3" y="631.2" text-anchor="end">57</text>
<text x="670.0" y="644.8">0.0975</text>
<text x="737.0" y="715.9" text-anchor="end">98</text>
<text x="755.7" y="729.5">0.0887</text>
<text x="648.7" y="673.5" text-anchor="end">84</text>
<text x="667.4" y="687.1">0.0979</text>
<text x="633.6" y="567.6" text-anchor="end">98</text>
<text x="652.3" y="581.2">0.101</text>
<text x="915.5" y="779.4" text-anchor="end">62</text>
<text x="934.2" y="793.0">0.0455</text>
<text x="906.2" y="763.5" text-anchor="end">100</text>
<text x="924.9" y="777.1">0.0473</text>
<text x="953.2" y="856.0" text-anchor="end">100</text>
<text x="863.4" y="927.6" text-anchor="end">100</text>
<text x="882.1" y="941.2">0.0596</text>
<text x="812.0" y="891.8" text-anchor="end">51</text>
<text x="830.7" y="905.4">0.0657</text>
<text x="796.1" y="851.5" text-anchor="end">94</text>
<text x="814.8" y="865.1">0.069</text>
<text x="703.1" y="807.5" text-anchor="end">97</text>
<text x="721.8" y="821.1">0.0873</text>
<text x="935.7" y="970.0" text-anchor="end">97</text>
<text x="954.4" y="983.6">0.0415</text>
<text x="865.6" y="985.9" text-anchor="end">100</text>
<text x="884.3" y="999.5">0.0554</text>
<text x="620.7" y="896.7" text-anchor="end">49</text>
<text x="639.4" y="910.3">0.1035</text>
<text x="937.7" y="1054.7" text-anchor="end">100</text>
<text x="956.4" y="1068.3">0.041</text>
<text x="888.5" y="1038.8" text-anchor="end">97</text>
<text x="907.2" y="1052.4">0.0808</text>
<text x="1022.7" y="1118.2" text-anchor="end">100</text>
<text x="1041.4" y="1131.8">0.0396</text>
<text x="974.6" y="1102.3" text-anchor="end">100</text>
<text x="993.3" y="1115.9">0.0834</text>
<text x="830.1" y="1070.6" text-anchor="end">100</text>
<text x="848.8" y="1084.2">0.0623</text>
<text x="605.9" y="983.6" text-anchor="end">93</text>
<text x="624.6" y="997.2">0.1066</text>
<text x="1145.7" y="1393.5" text-anchor="end">100</text>
<text x="1164.4" y="1407.1">0.0003</text>
<text x="1119.7" y="1377.6" text-anchor="end">99</text>
<text x="1138.4" y="1391.2">0.0097</text>
<text x="1119.7" y="1435.9" text-anchor="end">98</text>
<text x="1138.4" y="1449.5">0.0003</text>
<text x="1091.7" y="1406.7" text-anchor="end">79</text>
<text x="1110.4" y="1420.3">0.0107</text>
<text x="1082.9" y="1339.5" text-anchor="end">91</text>
<text x="1101.6" y="1353.1">0.0224</text>
<text x="1021.6" y="1244.7" text-anchor="end">98</text>
<text x="1040.3" y="1258.3">0.0245</text>
<text x="734.5" y="1356.2" text-anchor="end">64</text>
<text x="753.2" y="1369.8">0.0812</text>
<text x="731.9" y="1422.5" text-anchor="end">95</text>
<text x="750.6" y="1436.1">0.0817</text>
<text x="1082.7" y="1605.3" text-anchor="end">100</text>
<text x="1101.4" y="1618.9">0.0302</text>
<text x="943.1" y="1589.4" text-anchor="end">85</text>
<text x="961.8" y="1603.0">0.04</text>
<text x="912.0" y="1570.8" text-anchor="end">50</text>
<text x="930.7" y="1584.4">0.0461</text>
<text x="912.0" y="1647.6" text-anchor="end">87</text>
<text x="930.7" y="1661.2">0.0461</text>
<text x="877.7" y="1609.2" text-anchor="end">85</text>
<text x="896.4" y="1622.8">0.053</text>
<text x="805.7" y="1570.2" text-anchor="end">67</text>
<text x="824.4" y="1583.8">0.0671</text>
<text x="796.4" y="1540.1" text-anchor="end">42</text>
<text x="815.1" y="1553.7">0.069</text>
<text x="779.0" y="1609.7" text-anchor="end">99</text>
<text x="797.7" y="1623.3">0.0724</text>
<text x="670.1" y="1516.1" text-anchor="end">98</text>
<text x="688.8" y="1529.7">0.094</text>
<text x="583.0" y="1249.9" text-anchor="end">88</text>
<text x="601.7" y="1263.5">0.111</text>
<text x="563.4" y="908.8" text-anchor="end">80</text>
<text x="582.1" y="922.4">0.1147</text>
<text x="808.3" y="1711.1" text-anchor="end">99</text>
<text x="827.0" y="1724.7">0.0562</text>
<text x="797.3" y="1727.0" text-anchor="end">100</text>
<text x="816.0" y="1740.6">0.0687</text>
<text x="785.1" y="1774.7" text-anchor="end">88</text>
<text x="803.8" y="1788.3">0.0711</text>
<text x="783.2" y="1790.5" text-anchor="end">100</text>
<text x="801.9" y="1804.1">0.0717</text>
<text x="608.5" y="1758.8" text-anchor="end">76</text>
<text x="627.2" y="1772.4">0.106</text>
<text x="550.5" y="1333.8" text-anchor="end">97</text>
<text x="569.2" y="1347.4">0.1174</text>
<text x="778.2" y="1859.4" text-anchor="end">64</text>
<text x="796.9" y="1873.0">0.0878</text>
<text x="776.6" y="1843.5" text-anchor="end">100</text>
<text x="795.3" y="1857.1">0.0888</text>
<text x="742.6" y="1922.9" text-anchor="end">91</text>
<text x="761.3" y="1936.5">0.0799</text>
<text x="735.9" y="1907.0" text-anchor="end">97</text>
<text x="754.6" y="1920.6">0.0809</text>
<text x="687.9" y="1875.3" text-anchor="end">100</text>
<text x="706.6" y="1888.9">0.0903</text>
<text x="867.1" y="1986.4" text-anchor="end">99</text>
<text x="885.8" y="2000.0">0.0551</text>
<text x="804.3" y="1970.5" text-anchor="end">94</text>
<text x="823.0" y="1984.1">0.0624</text>
<text x="1018.5" y="2071.1" text-anchor="end">99</text>
<text x="1037.2" y="2084.7">0.025</text>
<text x="981.6" y="2055.2" text-anchor="end">100</text>
<text x="1000.3" y="2068.8">0.0225</text>
<text x="946.5" y="2113.5" text-anchor="end">100</text>
<text x="965.2" y="2127.1">0.0394</text>
<text x="856.0" y="2084.4" text-anchor="end">70</text>
<text x="874.7" y="2098.0">0.0572</text>
<text x="839.7" y="2051.3" text-anchor="end">99</text>
<text x="858.4" y="2064.9">0.0604</text>
<text x="931.0" y="2155.8" text-anchor="end">100</text>
<text x="949.7" y="2169.4">0.0212</text>
<text x="908.1" y="2171.7" text-anchor="end">100</text>
<text x="926.8" y="2185.3">0.047</text>
<text x="777.7" y="2111.5" text-anchor="end">87</text>
<text x="796.4" y="2125.1">0.0728</text>
<text x="740.7" y="2041.0" text-anchor="end">100</text>
<text x="759.4" y="2054.6">0.0799</text>
<text x="631.0" y="1958.1" text-anchor="end">94</text>
<text x="649.7" y="1971.7">0.1017</text>
<text x="687.9" y="2240.5" text-anchor="end">51</text>
<text x="706.6" y="2254.1">0.0903</text>
<text x="679.0" y="2224.7" text-anchor="end">100</text>
<text x="697.7" y="2238.3">0.0921</text>
<text x="612.2" y="2091.4" text-anchor="end">97</text>
<text x="630.9" y="2105.0">0.1052</text>
<text x="792.2" y="2304.1" text-anchor="end">100</text>
<text x="810.9" y="2317.7">0.0698</text>
<text x="695.1" y="2288.2" text-anchor="end">99</text>
<text x="713.8" y="2301.8">0.089</text>
<text x="938.1" y="2367.6" text-anchor="end">100</text>
<text x="956.8" y="2381.2">0.0636</text>
<text x="923.4" y="2351.7" text-anchor="end">100</text>
<text x="942.1" y="2365.3">0.0664</text>
<text x="544.7" y="2319.9" text-anchor="end">31</text>
<text x="563.4" y="2333.5">0.1185</text>
<text x="533.6" y="2205.7" text-anchor="end">28</text>
<text x="552.3" y="2219.3">0.1206</text>
<text x="747.1" y="2452.3" text-anchor="end">99</text>
<text x="765.8" y="2465.9">0.0789</text>
<text x="667.3" y="2436.4" text-anchor="end">97</text>
<text x="686.0" y="2450.0">0.0944</text>
<text x="561.3" y="2417.9" text-anchor="end">36</text>
<text x="580.0" y="2431.5">0.1154</text>
<text x="525.5" y="2311.8" text-anchor="end">67</text>
<text x="544.2" y="2325.4">0.1224</text>
<text x="659.2" y="2494.7" text-anchor="end">100</text>
<text x="677.9" y="2508.3">0.0987</text>
<text x="568.7" y="2510.5" text-anchor="end">92</text>
<text x="587.4" y="2524.1">0.1138</text>
<text x="504.0" y="2411.2" text-anchor="end">95</text>
<text x="522.7" y="2424.8">0.1264</text>
<text x="443.5" y="1872.5" text-anchor="end">97</text>
<text x="462.2" y="1886.1">0.1385</text>
<text x="352.2" y="1116.6" text-anchor="end">89</text>
<text x="370.9" y="1130.2">0.1564</text>
<text x="415.0" y="2579.4" text-anchor="end">99</text>
<text x="433.7" y="2593.0">0.1441</text>
<text x="383.7" y="2563.5" text-anchor="end">100</text>
<text x="402.4" y="2577.1">0.1502</text>
<text x="312.3" y="1840.1" text-anchor="end">78</text>
<text x="331.0" y="1853.7">0.1644</text>
<text x="672.5" y="2642.9" text-anchor="end">100</text>
<text x="691.2" y="2656.5">0.0935</text>
<text x="336.3" y="2627.0" text-anchor="end">99</text>
<text x="355.0" y="2640.6">0.1596</text>
<text x="278.3" y="2233.5" text-anchor="end">99</text>
<text x="297.0" y="2247.1">0.1713</text>
<text x="542.5" y="2685.2" text-anchor="end">73</text>
<text x="561.2" y="2698.8">0.1222</text>
<text x="511.8" y="2701.1" text-anchor="end">100</text>
<text x="530.5" y="2714.7">0.125</text>
<text x="676.2" y="2769.9" text-anchor="end">100</text>
<text x="694.9" y="2783.5">0.0927</text>
<text x="535.8" y="2754.1" text-anchor="end">100</text>
<text x="554.5" y="2767.7">0.1202</text>
<text x="718.0" y="2833.5" text-anchor="end">99</text>
<text x="736.7" y="2847.1">0.0845</text>
<text x="661.4" y="2817.6" text-anchor="end">100</text>
<text x="680.1" y="2831.2">0.0955</text>
<text x="607.9" y="2897.0" text-anchor="end">100</text>
<text x="626.6" y="2910.6">0.1008</text>
<text x="466.4" y="2881.1" text-anchor="end">81</text>
<text x="485.1" y="2894.7">0.134</text>
<text x="440.9" y="2849.3" text-anchor="end">74</text>
<text x="459.6" y="2862.9">0.139</text>
<text x="416.9" y="2801.7" text-anchor="end">83</text>
<text x="435.6" y="2815.3">0.1439</text>
<text x="347.4" y="2751.4" text-anchor="end">93</text>
<text x="366.1" y="2765.0">0.1574</text>
<text x="801.1" y="2960.5" text-anchor="end">98</text>
<text x="819.8" y="2974.1">0.0041</text>
<text x="774.9" y="2944.6" text-anchor="end">100</text>
<text x="793.6" y="2958.2">0.0771</text>
<text x="634.9" y="3002.9" text-anchor="end">100</text>
<text x="653.6" y="3016.5">0.1008</text>
<text x="654.8" y="3045.2" text-anchor="end">100</text>
<text x="673.5" y="3058.8">0.0966</text>
<text x="546.9" y="3024.1" text-anchor="end">100</text>
<text x="565.6" y="3037.7">0.1182</text>
<text x="420.2" y="2984.3" text-anchor="end">93</text>
<text x="438.9" y="2997.9">0.1431</text>
<text x="307.5" y="2867.9" text-anchor="end">99</text>
<text x="326.2" y="2881.5">0.1655</text>
<text x="417.6" y="3103.8" text-anchor="end">100</text>
<text x="131.7" y="2985.8" text-anchor="end">41</text>
<text x="150.4" y="2999.4">0.1998</text>
<text x="122.4" y="2609.7" text-anchor="end">58</text>
<text x="141.1" y="2623.3">0.2018</text>
<text x="320.7" y="3172.3" text-anchor="end">89</text>
<text x="339.4" y="3185.9">0.0163</text>
<text x="320.1" y="3156.4" text-anchor="end">100</text>
<text x="338.8" y="3170.0">0.0165</text>
<text x="94.9" y="2896.6">0.2109</text>
<text x="731.2" y="3214.6" text-anchor="end">100</text>
<text x="749.9" y="3228.2">0.0806</text>
<text x="618.5" y="3230.5" text-anchor="end">100</text>
<text x="637.2" y="3244.1">0.104</text>
<text x="126.9" y="3278.2" text-anchor="end">96</text>
<text x="145.6" y="3291.8">0.2008</text>
<text x="76.2" y="3254.3" text-anchor="end">73</text>
<text x="94.9" y="3267.9">0.2109</text>
<text x="71.7" y="3082.3">0.2156</text>
<text x="1059.0" y="220.0" text-anchor="end">45</text>
<text x="1059.0" y="239.0" text-anchor="end">9</text>
<text x="1059.0" y="250.0" text-anchor="end">21</text>
<text x="1059.0" y="267.0" text-anchor="end">87</text>
<text x="1059.0" y="313.0" text-anchor="end">96</text>
<text x="1077.5" y="231.7">0.017</text>
<text x="1077.5" y="253.0">0.017</text>
<text x="1077.5" y="262.0">0.017</text>
<text x="1077.5" y="280.0">0.017</text>
<text x="1077.5" y="325.0">0.017</text>
<text x="952.0" y="863.0" text-anchor="end">43</text>
<text x="952.0" y="880.4" text-anchor="end">80</text>
<text x="970.4" y="871.0">0.0002</text>
<text x="970.4" y="891.5">0.0005</text>
<text x="1082.4" y="1203.0" text-anchor="end">50</text>
<text x="1082.4" y="1232.0" text-anchor="end">2</text>
<text x="1082.4" y="1242.0" text-anchor="end">42</text>
<text x="1082.4" y="1257.0" text-anchor="end">45</text>
<text x="1082.4" y="1269.0" text-anchor="end">42</text>
<text x="1082.4" y="1281.0" text-anchor="end">7</text>
<text x="1102.0" y="1215.0">0.0224</text>
<text x="1102.0" y="1248.0">0.0215</text>
<text x="1102.0" y="1258.0">0.0215</text>
<text x="1102.0" y="1275.0">0.0204</text>
<text x="1102.0" y="1292.0">0.0208</text>
<text x="415.6" y="3086.7" text-anchor="end">33</text>
<text x="436.7" y="3100.0">0.043</text>
<text x="436.7" y="3115.5">0.043</text>
</g>
<g>
<rect x="41" y="127" width="2327.2" height="317.6" fill="#fff" fill-opacity="0.2"/>
<rect x="41" y="741.8" width="2327.2" height="214.2" fill="#fff" fill-opacity="0.08"/>
<rect x="41" y="1019" width="2327.2" height="125.3" fill="#fff" fill-opacity="0.12"/>
<rect x="41" y="1688.5" width="2327.2" height="129.8" fill="#fff" fill-opacity="0.08"/>
<rect x="41" y="2158" width="2327.2" height="317" fill="#fff" fill-opacity="0.28"/>
<rect x="41" y="2544" width="2327.2" height="62" fill="#fff" fill-opacity="0.12"/>
<rect x="41" y="2669.3" width="2327.2" height="255" fill="#fff" fill-opacity="0.12"/>
<rect x="41" y="2983" width="2327.2" height="85.3" fill="#fff" fill-opacity="0.08"/>
<rect x="41" y="3134" width="2327.2" height="66.3" fill="#fff" fill-opacity="0.12"/>
<rect x="41" y="3263" width="2327.2" height="122" fill="#fff" fill-opacity="0.12"/>
</g>
<g class="l">
<text x="1109.3" y="82.7" textLength="630.7" lengthAdjust="spacingAndGlyphs" fill="#161616" stroke="#161616" stroke-width="0.35">XIX FJ705456 92-40140/cormorant/MN/USA/1992</text>
<text x="1048.3" y="103.9" textLength="593.1" lengthAdjust="spacingAndGlyphs" fill="#161616" stroke="#161616" stroke-width="0.35">XIX JN942024 272409/cormorant/WI/USA/2003</text>
<text x="1078.5" y="125.1" textLength="581.7" lengthAdjust="spacingAndGlyphs" fill="#161616" stroke="#161616" stroke-width="0.35">XIX KC433530 41105/cormorant/FL/USA/2012</text>
<text x="701.6" y="146.2" textLength="496.1" lengthAdjust="spacingAndGlyphs" fill="#484848" stroke="#484848" stroke-width="0.35">V JN872189 8278/parrot/CO/USA/1982</text>
<text x="938.0" y="167.4" textLength="587.8" lengthAdjust="spacingAndGlyphs" fill="#484848" stroke="#484848" stroke-width="0.35">V JN942027 95066-9/chicken/Nicaragua/2001</text>
<text x="856.0" y="188.6" textLength="614.2" lengthAdjust="spacingAndGlyphs" fill="#484848" stroke="#484848" stroke-width="0.35">V JN872194 498109-15/chicken/Honduras/2007</text>
<text x="608.5" y="400.3" textLength="498.6" lengthAdjust="spacingAndGlyphs" fill="#484848" stroke="#484848" stroke-width="0.35">V EU518682 462/dove/DF/Mexico/2004</text>
<text x="630.6" y="421.5" textLength="538.0" lengthAdjust="spacingAndGlyphs" fill="#484848" stroke="#484848" stroke-width="0.35">V EU518684 466/chicken/MX/Mexico/2006</text>
<text x="696.0" y="442.7" textLength="566.8" lengthAdjust="spacingAndGlyphs" fill="#484848" stroke="#484848" stroke-width="0.35">V JQ697744 NC04-635/chicken/Mexico/2010</text>
<text x="864.0" y="463.9" textLength="656.8" lengthAdjust="spacingAndGlyphs" fill="#161616" stroke="#161616" stroke-width="0.35">VII KU862293 AW-1/parakeet/Karachi/Pakistan/2014</text>
<text x="855.0" y="485.0" textLength="697.9" lengthAdjust="spacingAndGlyphs" fill="#161616" stroke="#161616" stroke-width="0.35">VII HQ697254 010/chicken/Banjarmasin/Indonesia/2010</text>
<text x="944.6" y="506.2" textLength="616.8" lengthAdjust="spacingAndGlyphs" fill="#161616" stroke="#161616" stroke-width="0.35">VII EF579733 PYan/chicken/Shandong/China/2004</text>
<text x="1013.7" y="527.4" textLength="526.4" lengthAdjust="spacingAndGlyphs" fill="#161616" stroke="#161616" stroke-width="0.35">VII KX268351 Behshahr/chicken/Iran/2015</text>
<text x="856.7" y="548.6" textLength="616.0" lengthAdjust="spacingAndGlyphs" fill="#161616" stroke="#161616" stroke-width="0.35">VII EF589133 ND98/pheasant/Ghizou/China/1998</text>
<text x="954.6" y="569.7" textLength="580.0" lengthAdjust="spacingAndGlyphs" fill="#161616" stroke="#161616" stroke-width="0.35">VII KC542905 01/chicken/Liaoning/China/2009</text>
<text x="851.0" y="590.9" textLength="611.8" lengthAdjust="spacingAndGlyphs" fill="#161616" stroke="#161616" stroke-width="0.35">VII AB853927 SG106/chicken/Ibaraki/Japan/1999</text>
<text x="794.0" y="612.1" textLength="481.1" lengthAdjust="spacingAndGlyphs" fill="#161616" stroke="#161616" stroke-width="0.35">VII GQ338309 018/pigeon/China/2003</text>
<text x="838.2" y="633.3" textLength="475.1" lengthAdjust="spacingAndGlyphs" fill="#161616" stroke="#161616" stroke-width="0.35">VII AY028995 CH-A7/fowl/China/1996</text>
<text x="858.6" y="654.5" textLength="573.1" lengthAdjust="spacingAndGlyphs" fill="#161616" stroke="#161616" stroke-width="0.35">VII DQ227246 JS02/goose/Jiangsu/China/1999</text>
<text x="1156.0" y="675.6" textLength="616.8" lengthAdjust="spacingAndGlyphs" fill="#161616" stroke="#161616" stroke-width="0.35">VII MF622047 RBWW-3/chicken/South Africa/2013</text>
<text x="1089.5" y="718.0" textLength="532.9" lengthAdjust="spacingAndGlyphs" fill="#161616" stroke="#161616" stroke-width="0.35">VII KY747479 5620/chicken/Namibia/2016</text>
<text x="787.3" y="739.2" textLength="608.0" lengthAdjust="spacingAndGlyphs" fill="#161616" stroke="#161616" stroke-width="0.35">VII JN986837 152608/chicken/Netherlands/1993</text>
<text x="928.3" y="760.3" textLength="594.0" lengthAdjust="spacingAndGlyphs" fill="#2a2a2a" stroke="#2a2a2a" stroke-width="0.35">XVIII FJ772455 1532-14/avian/Mauritania/2006</text>
<text x="965.2" y="781.5" textLength="604.9" lengthAdjust="spacingAndGlyphs" fill="#2a2a2a" stroke="#2a2a2a" stroke-width="0.35">XVIII JF966389 ML038_07/guinea fowl/Mali/2007</text>
<text x="966.0" y="802.7" textLength="564.9" lengthAdjust="spacingAndGlyphs" fill="#2a2a2a" stroke="#2a2a2a" stroke-width="0.35">XVIII JX518885 ML57051T/chicken/Mali/2010</text>
<text x="834.0" y="823.9" textLength="566.3" lengthAdjust="spacingAndGlyphs" fill="#2a2a2a" stroke="#2a2a2a" stroke-width="0.35">XVIII JX518886 ML57072T/chicken/Mali/2010</text>
<text x="893.2" y="929.7" textLength="742.4" lengthAdjust="spacingAndGlyphs" fill="#2a2a2a" stroke="#2a2a2a" stroke-width="0.35">XVIII HG326600 CIV08-032/village weaver/Ivory Coast/2006</text>
<text x="902.5" y="950.9" textLength="661.1" lengthAdjust="spacingAndGlyphs" fill="#2a2a2a" stroke="#2a2a2a" stroke-width="0.35">XVIII HF969218 CIV08-042/chicken/Ivory Coast/2007</text>
<text x="1111.1" y="972.1" textLength="611.0" lengthAdjust="spacingAndGlyphs" fill="#161616" stroke="#161616" stroke-width="0.35">XVII HF969176 NIE10-310/chicken/Nigeria/2011</text>
<text x="1018.8" y="993.3" textLength="624.5" lengthAdjust="spacingAndGlyphs" fill="#161616" stroke="#161616" stroke-width="0.35">XVII HF969191 NIE08-2042/chicken/Nigeria/2009</text>
<text x="1012.1" y="1014.4" textLength="625.3" lengthAdjust="spacingAndGlyphs" fill="#161616" stroke="#161616" stroke-width="0.35">XVII HF969194 NIE08-2199/chicken/Nigeria/2009</text>
<text x="1047.5" y="1035.6" textLength="611.3" lengthAdjust="spacingAndGlyphs" fill="#3c3c3c" stroke="#3c3c3c" stroke-width="0.35">XIV JN872165 VIR_1377-7/chicken/Nigeria/2006</text>
<text x="1015.1" y="1056.8" textLength="592.9" lengthAdjust="spacingAndGlyphs" fill="#3c3c3c" stroke="#3c3c3c" stroke-width="0.35">XIV JQ039386 VRD08-36/chicken/Nigeria/2008</text>
<text x="1033.5" y="1078.0" textLength="604.8" lengthAdjust="spacingAndGlyphs" fill="#3c3c3c" stroke="#3c3c3c" stroke-width="0.35">XIV HF969205 NIE09-2071/turkey/Nigeria/2009</text>
<text x="1039.1" y="1099.1" textLength="619.3" lengthAdjust="spacingAndGlyphs" fill="#3c3c3c" stroke="#3c3c3c" stroke-width="0.35">XIV HF969187 NIE08-0453/chicken/Nigeria/2008</text>
<text x="1053.1" y="1120.3" textLength="605.5" lengthAdjust="spacingAndGlyphs" fill="#3c3c3c" stroke="#3c3c3c" stroke-width="0.35">XIV HF969210 NIE10-139/chicken/Nigeria/2011</text>
<text x="1053.1" y="1141.5" textLength="746.3" lengthAdjust="spacingAndGlyphs" fill="#3c3c3c" stroke="#3c3c3c" stroke-width="0.35">XIV KY171990 KD-TW-03T-N45-720/chicken/Nigeria/2009</text>
<text x="1054.5" y="1162.7" textLength="584.0" lengthAdjust="spacingAndGlyphs" fill="#161616" stroke="#161616" stroke-width="0.35">XIII JN942043 47385-11/roller/Tanzania/2010</text>
<text x="799.0" y="1480.3" textLength="615.5" lengthAdjust="spacingAndGlyphs" fill="#161616" stroke="#161616" stroke-width="0.35">XIII JN942034 45445-3/ostrich/South Africa/1995</text>
<text x="1044.4" y="1501.5" textLength="567.0" lengthAdjust="spacingAndGlyphs" fill="#161616" stroke="#161616" stroke-width="0.35">XIII MF409241 chicken/Chiwoko/Zambia/2015</text>
<text x="891.0" y="1522.7" textLength="506.9" lengthAdjust="spacingAndGlyphs" fill="#161616" stroke="#161616" stroke-width="0.35">XIII JQ267579 EMM-7/chicken/Iran/2011</text>
<text x="827.7" y="1543.8" textLength="503.0" lengthAdjust="spacingAndGlyphs" fill="#161616" stroke="#161616" stroke-width="0.35">XIII JQ267585 EMM-1/chicken/Iran/2008</text>
<text x="1068.9" y="1565.0" textLength="689.3" lengthAdjust="spacingAndGlyphs" fill="#161616" stroke="#161616" stroke-width="0.35">XIII GU182323 SPVC-43/chicken/Karachi/Pakistan/2008</text>
<text x="1121.7" y="1586.2" textLength="702.5" lengthAdjust="spacingAndGlyphs" fill="#161616" stroke="#161616" stroke-width="0.35">XIII KM056349 ndv42-04/chicken/Gopalpura/India/2013</text>
<text x="1139.8" y="1607.4" textLength="574.5" lengthAdjust="spacingAndGlyphs" fill="#161616" stroke="#161616" stroke-width="0.35">XIII KX372707 Nagpur-03/chicken/India/2011</text>
<text x="1125.5" y="1628.5" textLength="557.1" lengthAdjust="spacingAndGlyphs" fill="#161616" stroke="#161616" stroke-width="0.35">XIII KT734767 Polashbari/chicken/India/2014</text>
<text x="996.9" y="1649.7" textLength="690.4" lengthAdjust="spacingAndGlyphs" fill="#161616" stroke="#161616" stroke-width="0.35">XIII GU182331 SPVC-44/chicken/Karachi/Pakistan/2007</text>
<text x="1022.7" y="1670.9" textLength="525.8" lengthAdjust="spacingAndGlyphs" fill="#161616" stroke="#161616" stroke-width="0.35">XIII KF113338 751/chicken/Pakistan/2011</text>
<text x="818.8" y="1692.1" textLength="504.1" lengthAdjust="spacingAndGlyphs" fill="#161616" stroke="#161616" stroke-width="0.35">XIII JQ267584 EMM-2/chicken/Iran/2008</text>
<text x="838.5" y="1713.3" textLength="579.2" lengthAdjust="spacingAndGlyphs" fill="#303030" stroke="#303030" stroke-width="0.35">XII KU594616 40871/chicken/Lurin/Peru/2004</text>
<text x="840.5" y="1734.4" textLength="633.6" lengthAdjust="spacingAndGlyphs" fill="#303030" stroke="#303030" stroke-width="0.35">XII KU594615 50009/chicken/Apurimac/Peru/2005</text>
<text x="1032.8" y="1755.6" textLength="656.3" lengthAdjust="spacingAndGlyphs" fill="#303030" stroke="#303030" stroke-width="0.35">XII KU594618 VFAR-81/chicken/Arequipa/Peru/2015</text>
<text x="817.5" y="1776.8" textLength="484.3" lengthAdjust="spacingAndGlyphs" fill="#303030" stroke="#303030" stroke-width="0.35">XII JN627504 GD12/goose/China/2011</text>
<text x="808.2" y="1798.0" textLength="515.5" lengthAdjust="spacingAndGlyphs" fill="#303030" stroke="#303030" stroke-width="0.35">XII JN627507 GD1003/goose/China/2010</text>
<text x="831.5" y="1819.1" textLength="597.0" lengthAdjust="spacingAndGlyphs" fill="#303030" stroke="#303030" stroke-width="0.35">XII MF278927 GS-FS-SS-292/goose/China/2013</text>
<text x="874.4" y="1840.3" textLength="509.4" lengthAdjust="spacingAndGlyphs" fill="#161616" stroke="#161616" stroke-width="0.35">VI FJ480825 PG-JS-1/pigeon/China/2005</text>
<text x="808.7" y="1861.5" textLength="476.2" lengthAdjust="spacingAndGlyphs" fill="#161616" stroke="#161616" stroke-width="0.35">VI KJ607163 LJS-1/pigeon/China/2004</text>
<text x="816.8" y="1882.7" textLength="463.8" lengthAdjust="spacingAndGlyphs" fill="#161616" stroke="#161616" stroke-width="0.35">VI JX244794 100/pigeon/China/2008</text>
<text x="815.3" y="1903.8" textLength="540.0" lengthAdjust="spacingAndGlyphs" fill="#161616" stroke="#161616" stroke-width="0.35">VI JN872180 209682/pigeon/TX/USA/2002</text>
<text x="821.6" y="1925.0" textLength="462.4" lengthAdjust="spacingAndGlyphs" fill="#161616" stroke="#161616" stroke-width="0.35">VI JX901312 0101/pigeon/USA/2001</text>
<text x="805.0" y="1946.2" textLength="523.5" lengthAdjust="spacingAndGlyphs" fill="#161616" stroke="#161616" stroke-width="0.35">VI JN872182 12339/pigeon/NY/USA/1998</text>
<text x="1032.2" y="1967.4" textLength="580.6" lengthAdjust="spacingAndGlyphs" fill="#161616" stroke="#161616" stroke-width="0.35">VI HG424627 NIE13-092/pigeon/Nigeria/2013</text>
<text x="967.5" y="1988.5" textLength="606.7" lengthAdjust="spacingAndGlyphs" fill="#161616" stroke="#161616" stroke-width="0.35">VI JX518532 B2/laughing dove/Isiolo/Kenya/2012</text>
<text x="995.3" y="2009.7" textLength="598.1" lengthAdjust="spacingAndGlyphs" fill="#161616" stroke="#161616" stroke-width="0.35">VI HG326604 NIE09-1898/pigeon/Nigeria/2009</text>
<text x="863.4" y="2030.9" textLength="537.6" lengthAdjust="spacingAndGlyphs" fill="#161616" stroke="#161616" stroke-width="0.35">VI JX901110 98-248/pigeon/Belgium/1988</text>
<text x="1004.5" y="2052.1" textLength="575.2" lengthAdjust="spacingAndGlyphs" fill="#161616" stroke="#161616" stroke-width="0.35">VI JX901124 11-09620/pigeon/Belgium/2011</text>
<text x="1050.7" y="2073.2" textLength="532.8" lengthAdjust="spacingAndGlyphs" fill="#161616" stroke="#161616" stroke-width="0.35">VI KT163262 SH-0167/pigeon/China/2013</text>
<text x="1128.2" y="2094.4" textLength="595.3" lengthAdjust="spacingAndGlyphs" fill="#161616" stroke="#161616" stroke-width="0.35">VI MG840654 2068/pigeon/Ningxia/China/2016</text>
<text x="1052.5" y="2115.6" textLength="494.6" lengthAdjust="spacingAndGlyphs" fill="#161616" stroke="#161616" stroke-width="0.35">VI JX094510 sms12/pigeon/China/2012</text>
<text x="1007.4" y="2136.8" textLength="583.3" lengthAdjust="spacingAndGlyphs" fill="#161616" stroke="#161616" stroke-width="0.35">VI JX486553 LHLJ-1108137pigeon/China/2011</text>
<text x="971.2" y="2157.9" textLength="499.1" lengthAdjust="spacingAndGlyphs" fill="#161616" stroke="#161616" stroke-width="0.35">VI JX901351 0721/pigeon/NJ/USA/2007</text>
<text x="954.6" y="2179.1" textLength="502.7" lengthAdjust="spacingAndGlyphs" fill="#363636" stroke="#363636" stroke-width="0.35">VI JX901367 0810/pigeon/PA/USA/2008</text>
<text x="1142.6" y="2200.3" textLength="544.4" lengthAdjust="spacingAndGlyphs" fill="#363636" stroke="#363636" stroke-width="0.35">VI MG018211 26981-3/dove/TX/USA/2015</text>
<text x="711.9" y="2221.5" textLength="531.3" lengthAdjust="spacingAndGlyphs" fill="#363636" stroke="#363636" stroke-width="0.35">VI FJ410145 PPMV-1/pigeon/NY/USA/1984</text>
<text x="755.0" y="2242.7" textLength="566.9" lengthAdjust="spacingAndGlyphs" fill="#363636" stroke="#363636" stroke-width="0.35">VI AF109885 GB1168/fowl/Great Britain/1984</text>
<text x="745.0" y="2263.8" textLength="449.1" lengthAdjust="spacingAndGlyphs" fill="#363636" stroke="#363636" stroke-width="0.35">VI FJ865434 s-1/pigeon/China/2002</text>
<text x="793.9" y="2285.0" textLength="692.0" lengthAdjust="spacingAndGlyphs" fill="#363636" stroke="#363636" stroke-width="0.35">XXI KY042141 221B/pigeon/Jallo-Lahore/Pakistan/2016</text>
<text x="862.6" y="2306.2" textLength="633.9" lengthAdjust="spacingAndGlyphs" fill="#363636" stroke="#363636" stroke-width="0.35">XXI KU862298 AW-2/pigeon/Lahore/Pakistan/2015</text>
<text x="858.9" y="2327.4" textLength="694.8" lengthAdjust="spacingAndGlyphs" fill="#363636" stroke="#363636" stroke-width="0.35">XXI KY042135 22A-1001/pigeon/Lahore/Pakistan/2015</text>
<text x="1005.5" y="2348.5" textLength="607.5" lengthAdjust="spacingAndGlyphs" fill="#363636" stroke="#363636" stroke-width="0.35">XXI KU377535 12VIR1876/turtle dove/Italy/2012</text>
<text x="960.2" y="2369.7" textLength="596.0" lengthAdjust="spacingAndGlyphs" fill="#363636" stroke="#363636" stroke-width="0.35">XXI JN638234 11RS98_102VIR/dove/Italy/2011</text>
<text x="969.8" y="2390.9" textLength="607.0" lengthAdjust="spacingAndGlyphs" fill="#363636" stroke="#363636" stroke-width="0.35">XXI KU377533 10VIR7155/turtle dove/Italy/2010</text>
<text x="1102.8" y="2412.1" textLength="600.7" lengthAdjust="spacingAndGlyphs" fill="#363636" stroke="#363636" stroke-width="0.35">XXI KC205479 ETHMG1C/chicken/Ethiopia/2011</text>
<text x="749.9" y="2433.2" textLength="613.0" lengthAdjust="spacingAndGlyphs" fill="#363636" stroke="#363636" stroke-width="0.35">XXI KY042136 125/pigeon/Lahore/Pakistan/2015</text>
<text x="817.9" y="2454.4" textLength="651.5" lengthAdjust="spacingAndGlyphs" fill="#363636" stroke="#363636" stroke-width="0.35">XXI KY042132 73-111/pigeon/El Fayom/Egypt/2015</text>
<text x="840.5" y="2475.6" textLength="597.4" lengthAdjust="spacingAndGlyphs" fill="#363636" stroke="#363636" stroke-width="0.35">XXI JF824032 697/pigeon/Vladimir/Russia/2005</text>
<text x="717.5" y="2496.8" textLength="603.3" lengthAdjust="spacingAndGlyphs" fill="#161616" stroke="#161616" stroke-width="0.35">XX AB853928 SM87/chicken/Ibaraki/Japan/1987</text>
<text x="698.2" y="2517.9" textLength="503.7" lengthAdjust="spacingAndGlyphs" fill="#161616" stroke="#161616" stroke-width="0.35">XX AF458016 ZhJ-2/chicken/China/1986</text>
<text x="727.4" y="2539.1" textLength="551.2" lengthAdjust="spacingAndGlyphs" fill="#161616" stroke="#161616" stroke-width="0.35">XX KY042142 88-M/quail/South Korea/1988</text>
<text x="438.6" y="2560.3" textLength="561.6" lengthAdjust="spacingAndGlyphs" fill="#3c3c3c" stroke="#3c3c3c" stroke-width="0.35">VIII JX012096 AF2240-I/avian/Malaysia/1960</text>
<text x="505.3" y="2581.5" textLength="690.9" lengthAdjust="spacingAndGlyphs" fill="#3c3c3c" stroke="#3c3c3c" stroke-width="0.35">VIII AY734534 TrenqueLauquen/chicken/Argentina/1970</text>
<text x="612.6" y="2602.6" textLength="484.5" lengthAdjust="spacingAndGlyphs" fill="#3c3c3c" stroke="#3c3c3c" stroke-width="0.35">VIII FJ751918 QH1/chicken/China/1979</text>
<text x="358.7" y="2623.8" textLength="638.8" lengthAdjust="spacingAndGlyphs" fill="#161616" stroke="#161616" stroke-width="0.35">XVI JX915243 452/chicken/Queretaro/Mexico/1947</text>
<text x="977.3" y="2645.0" textLength="656.7" lengthAdjust="spacingAndGlyphs" fill="#161616" stroke="#161616" stroke-width="0.35">XVI JX186997 867/chicken/Dominican Republic/2008</text>
<text x="854.5" y="2666.2" textLength="720.6" lengthAdjust="spacingAndGlyphs" fill="#161616" stroke="#161616" stroke-width="0.35">XVI JX915242 28138-4/chicken/Dominican Republic/1986</text>
<text x="572.2" y="2687.3" textLength="573.1" lengthAdjust="spacingAndGlyphs" fill="#3c3c3c" stroke="#3c3c3c" stroke-width="0.35">I HG326605 NIE08-0221/goose/Nigeria/2008</text>
<text x="563.7" y="2708.5" textLength="548.6" lengthAdjust="spacingAndGlyphs" fill="#3c3c3c" stroke="#3c3c3c" stroke-width="0.35">I AY965079 FarEast2713/duck/Russia/2001</text>
<text x="595.5" y="2729.7" textLength="543.4" lengthAdjust="spacingAndGlyphs" fill="#3c3c3c" stroke="#3c3c3c" stroke-width="0.35">I KC503453 44493-716/teal/AK/USA/2009</text>
<text x="576.0" y="2750.9" textLength="649.4" lengthAdjust="spacingAndGlyphs" fill="#3c3c3c" stroke="#3c3c3c" stroke-width="0.35">I NDVFPB Que66/chicken/Queensland/Australia/1966</text>
<text x="700.4" y="2772.1" textLength="587.2" lengthAdjust="spacingAndGlyphs" fill="#3c3c3c" stroke="#3c3c3c" stroke-width="0.35">I AY935495 99-0868hi/chicken/Australia/1999</text>
<text x="767.0" y="2793.2" textLength="566.1" lengthAdjust="spacingAndGlyphs" fill="#3c3c3c" stroke="#3c3c3c" stroke-width="0.35">I AY935490 02-1334/chicken/Australia/2002</text>
<text x="712.6" y="2814.4" textLength="448.6" lengthAdjust="spacingAndGlyphs" fill="#3c3c3c" stroke="#3c3c3c" stroke-width="0.35">I GQ918280 BHG/gull/Sweden/1994</text>
<text x="992.0" y="2835.6" textLength="467.1" lengthAdjust="spacingAndGlyphs" fill="#3c3c3c" stroke="#3c3c3c" stroke-width="0.35">I KX352834 Tyva14/gull/Russia/2014</text>
<text x="799.4" y="2856.8" textLength="584.2" lengthAdjust="spacingAndGlyphs" fill="#3c3c3c" stroke="#3c3c3c" stroke-width="0.35">I EF564816 A101-1383/redknot/NJ/USA/2001</text>
<text x="518.0" y="2877.9" textLength="461.4" lengthAdjust="spacingAndGlyphs" fill="#3c3c3c" stroke="#3c3c3c" stroke-width="0.35">I AB465607 Ishii/chicken/Japan/1962</text>
<text x="800.2" y="2899.1" textLength="572.6" lengthAdjust="spacingAndGlyphs" fill="#3c3c3c" stroke="#3c3c3c" stroke-width="0.35">I KC503476 44500-136/pintail/AK/USA/2009</text>
<text x="636.2" y="2920.3" textLength="615.3" lengthAdjust="spacingAndGlyphs" fill="#3c3c3c" stroke="#3c3c3c" stroke-width="0.35">I KC503479 Nikita530FFNK2/redpoll/Russia/2008</text>
<text x="960.2" y="2941.5" textLength="483.0" lengthAdjust="spacingAndGlyphs" fill="#161616" stroke="#161616" stroke-width="0.35">II GU978777 GB/chicken/TX/USA/1948</text>
<text x="820.9" y="2962.6" textLength="527.4" lengthAdjust="spacingAndGlyphs" fill="#161616" stroke="#161616" stroke-width="0.35">II JN872151 HitchnerB1/chicken/USA/1947</text>
<text x="838.3" y="2983.8" textLength="476.9" lengthAdjust="spacingAndGlyphs" fill="#161616" stroke="#161616" stroke-width="0.35">II AF077761 LaSota/chicken/USA/1946</text>
<text x="665.0" y="3005.0" textLength="609.1" lengthAdjust="spacingAndGlyphs" fill="#303030" stroke="#303030" stroke-width="0.35">X KX857716 AI09-4117/redhead/ND/IUSA/2009</text>
<text x="684.5" y="3026.2" textLength="537.9" lengthAdjust="spacingAndGlyphs" fill="#303030" stroke="#303030" stroke-width="0.35">X FJ705468 TX01-130/duck/TX/USA/2001</text>
<text x="704.9" y="3047.3" textLength="595.3" lengthAdjust="spacingAndGlyphs" fill="#303030" stroke="#303030" stroke-width="0.35">X KX857721 AI10-3434/mallard/MN/USA/2010</text>
<text x="684.5" y="3068.5" textLength="542.7" lengthAdjust="spacingAndGlyphs" fill="#303030" stroke="#303030" stroke-width="0.35">X FJ705466 99-376/mallard/MN/USA/1999</text>
<text x="438.5" y="3089.7" textLength="496.7" lengthAdjust="spacingAndGlyphs" fill="#161616" stroke="#161616" stroke-width="0.35">IX FJ436302 F48E8/chicken/China/1948</text>
<text x="438.5" y="3110.9" textLength="473.5" lengthAdjust="spacingAndGlyphs" fill="#161616" stroke="#161616" stroke-width="0.35">IX FJ436303 ZJ-1/chicken/China/1986</text>
<text x="438.5" y="3132.0" textLength="479.3" lengthAdjust="spacingAndGlyphs" fill="#161616" stroke="#161616" stroke-width="0.35">IX AF458009 FJ-1/chicken/China/1985</text>
<text x="376.6" y="3153.2" textLength="624.4" lengthAdjust="spacingAndGlyphs" fill="#3c3c3c" stroke="#3c3c3c" stroke-width="0.35">III GU182327 SPVC/chicken/Karachi/Pakistan/1974</text>
<text x="340.6" y="3174.4" textLength="515.5" lengthAdjust="spacingAndGlyphs" fill="#3c3c3c" stroke="#3c3c3c" stroke-width="0.35">III EF201805 Mukteswar/avian/India/1940</text>
<text x="348.7" y="3195.6" textLength="643.4" lengthAdjust="spacingAndGlyphs" fill="#3c3c3c" stroke="#3c3c3c" stroke-width="0.35">III MH996904 1161/pigeon/NovoSelo/Bulgaria/1995</text>
<text x="841.1" y="3216.7" textLength="586.0" lengthAdjust="spacingAndGlyphs" fill="#161616" stroke="#161616" stroke-width="0.35">XI JX518882 MGMNJ/chicken/Madagascar/2009</text>
<text x="777.2" y="3237.9" textLength="534.8" lengthAdjust="spacingAndGlyphs" fill="#161616" stroke="#161616" stroke-width="0.35">XI JX518884 MGS1595T/Madagascar/2011</text>
<text x="674.9" y="3259.1" textLength="617.7" lengthAdjust="spacingAndGlyphs" fill="#161616" stroke="#161616" stroke-width="0.35">XI HQ266602 MG_725/chicken/Madagascar/2008</text>
<text x="181.0" y="3280.3" textLength="419.4" lengthAdjust="spacingAndGlyphs" fill="#3c3c3c" stroke="#3c3c3c" stroke-width="0.35">IV AY741404 Herts/fowl/UK/1933</text>
<text x="325.0" y="3301.5" textLength="534.9" lengthAdjust="spacingAndGlyphs" fill="#3c3c3c" stroke="#3c3c3c" stroke-width="0.35">IV MH996900 1153/chicken/Bulgaria/1959</text>
<text x="575.4" y="3355.4" textLength="56.5" lengthAdjust="spacingAndGlyphs" fill="#222" stroke="#222" stroke-width="0.4">0.04</text>
</g>
<g class="l">
<text x="1082.9" y="209.5" textLength="702.7" lengthAdjust="spacingAndGlyphs" fill="#c61f2d" stroke="#c61f2d" stroke-width="0" class="b">V MT335738 9261/chicken/Morogoro/Tanzania/2016</text>
<text x="1082.9" y="230.6" textLength="702.7" lengthAdjust="spacingAndGlyphs" fill="#c61f2d" stroke="#c61f2d" stroke-width="0" class="b">V MT335736 6467/chicken/Morogoro/Tanzania/2016</text>
<text x="1082.9" y="251.8" textLength="685.3" lengthAdjust="spacingAndGlyphs" fill="#c61f2d" stroke="#c61f2d" stroke-width="0" class="b">V MT335735 208/chicken/Morogoro/Tanzania/2016</text>
<text x="1092.9" y="273.0" textLength="768.4" lengthAdjust="spacingAndGlyphs" fill="#c61f2d" stroke="#c61f2d" stroke-width="0" class="b">V MT335743 320-2719/chicken/Morogoro/Tanzania/2016</text>
<text x="1082.9" y="294.2" textLength="702.7" lengthAdjust="spacingAndGlyphs" fill="#c61f2d" stroke="#c61f2d" stroke-width="0" class="b">V MT335740 9443/chicken/Morogoro/Tanzania/2016</text>
<text x="1082.9" y="315.3" textLength="702.7" lengthAdjust="spacingAndGlyphs" fill="#c61f2d" stroke="#c61f2d" stroke-width="0" class="b">V MT335737 9455/chicken/Morogoro/Tanzania/2016</text>
<text x="1116.9" y="336.5" textLength="702.8" lengthAdjust="spacingAndGlyphs" fill="#c61f2d" stroke="#c61f2d" stroke-width="0" class="b">V MT335728 9583/chicken/Morogoro/Tanzania/2014</text>
<text x="1033.2" y="357.7" textLength="824.5" lengthAdjust="spacingAndGlyphs" fill="#c61f2d" stroke="#c61f2d" stroke-width="0" class="b">V MT335727 VirMagerHatch/chicken/Morogoro/Tanzania/2011</text>
<text x="1033.2" y="378.9" textLength="740.2" lengthAdjust="spacingAndGlyphs" fill="#c61f2d" stroke="#c61f2d" stroke-width="0" class="b">V MT335733 30Hatch/chicken/Morogoro/Tanzania/2014</text>
<text x="1075.6" y="696.5" textLength="706.6" lengthAdjust="spacingAndGlyphs" fill="#c8a227" stroke="#c8a227" stroke-width="0" class="b">VII MT335749 Mw13/chicken/Mwanza/Tanzania/2012</text>
<text x="974.5" y="845.0" textLength="721.8" lengthAdjust="spacingAndGlyphs" fill="#6fd2d6" stroke="#6fd2d6" stroke-width="0.35">XVIII MT335751 NE-29A-B2/chicken/Pokoasi/Ghana/2018</text>
<text x="975.6" y="865.9" textLength="704.8" lengthAdjust="spacingAndGlyphs" fill="#2a2fd0" stroke="#2a2fd0" stroke-width="0" class="b">XVIII MT335753 NE-28A-B2/chicken/Wa/Ghana/2018</text>
<text x="975.6" y="887.1" textLength="704.8" lengthAdjust="spacingAndGlyphs" fill="#2a2fd0" stroke="#2a2fd0" stroke-width="0" class="b">XVIII MT335754 NE-28A-B3/chicken/Wa/Ghana/2018</text>
<text x="975.6" y="908.3" textLength="704.8" lengthAdjust="spacingAndGlyphs" fill="#2a2fd0" stroke="#2a2fd0" stroke-width="0" class="b">XVIII MT335752 NE-28A-B1/chicken/Wa/Ghana/2018</text>
<text x="1107.8" y="1183.6" textLength="726.1" lengthAdjust="spacingAndGlyphs" fill="#c61f2d" stroke="#c61f2d" stroke-width="0" class="b">XIII MT335739 8037/chicken/Morogoro/Tanzania/2016</text>
<text x="1107.8" y="1204.7" textLength="726.1" lengthAdjust="spacingAndGlyphs" fill="#c61f2d" stroke="#c61f2d" stroke-width="0" class="b">XIII MT335745 8659/chicken/Morogoro/Tanzania/2016</text>
<text x="1107.8" y="1225.9" textLength="737.5" lengthAdjust="spacingAndGlyphs" fill="#c61f2d" stroke="#c61f2d" stroke-width="0" class="b">XIII MT335748 11Vac/chicken/Morogoro/Tanzania/2017</text>
<text x="1107.8" y="1247.1" textLength="792.8" lengthAdjust="spacingAndGlyphs" fill="#c61f2d" stroke="#c61f2d" stroke-width="0" class="b">XIII MT335746 9381-131/chicken/Morogoro/Tanzania/2016</text>
<text x="1107.8" y="1268.3" textLength="709.4" lengthAdjust="spacingAndGlyphs" fill="#c61f2d" stroke="#c61f2d" stroke-width="0" class="b">XIII MT335742 525/chicken/Morogoro/Tanzania/2016</text>
<text x="1107.8" y="1289.4" textLength="726.1" lengthAdjust="spacingAndGlyphs" fill="#c61f2d" stroke="#c61f2d" stroke-width="0" class="b">XIII MT335744 9334/chicken/Morogoro/Tanzania/2016</text>
<text x="1107.8" y="1310.6" textLength="725.9" lengthAdjust="spacingAndGlyphs" fill="#c61f2d" stroke="#c61f2d" stroke-width="0" class="b">XIII MT335729 6094/chicken/Morogoro/Tanzania/2014</text>
<text x="1107.8" y="1331.8" textLength="709.4" lengthAdjust="spacingAndGlyphs" fill="#c61f2d" stroke="#c61f2d" stroke-width="0" class="b">XIII MT335741 189/chicken/Morogoro/Tanzania/2016</text>
<text x="1153.3" y="1353.0" textLength="726.1" lengthAdjust="spacingAndGlyphs" fill="#c61f2d" stroke="#c61f2d" stroke-width="0" class="b">XIII MT335734 9206/chicken/Morogoro/Tanzania/2016</text>
<text x="1144.0" y="1374.1" textLength="737.8" lengthAdjust="spacingAndGlyphs" fill="#c61f2d" stroke="#c61f2d" stroke-width="0" class="b">XIII MT335747 10Vac/chicken/Morogoro/Tanzania/2017</text>
<text x="1170.6" y="1395.3" textLength="726.0" lengthAdjust="spacingAndGlyphs" fill="#c61f2d" stroke="#c61f2d" stroke-width="0" class="b">XIII MT335730 9600/chicken/Morogoro/Tanzania/2014</text>
<text x="1170.6" y="1416.5" textLength="726.0" lengthAdjust="spacingAndGlyphs" fill="#c61f2d" stroke="#c61f2d" stroke-width="0" class="b">XIII MT335732 9581/chicken/Morogoro/Tanzania/2014</text>
<text x="1142.9" y="1437.7" textLength="695.3" lengthAdjust="spacingAndGlyphs" fill="#f0a020" stroke="#f0a020" stroke-width="0" class="b">XIII MT335750 Mt07/chicken/Mtwara/Tanzania/2012</text>
<text x="1142.9" y="1458.8" textLength="726.4" lengthAdjust="spacingAndGlyphs" fill="#c61f2d" stroke="#c61f2d" stroke-width="0" class="b">XIII MT335731 9676/chicken/Morogoro/Tanzania/2014</text>
</g>
<g class="g">
<text x="2254.6 2291.6 2308.4" y="112.0">XIX</text>
<text x="2302.5" y="304.8" fill="#2b2b2b" stroke="#2b2b2b">V</text>
<text x="2267.6 2307.1 2325.7" y="616.2">VII</text>
<text x="2216.0 2251.5 2291.6 2310.3 2327.1" y="869.9">XVIII</text>
<text x="2237.8 2276.1 2316.2 2332.8" y="1008.9">XVII</text>
<text x="2249.0 2286.7 2304.8" y="1104.4">XIV</text>
<text x="2254.6 2291.6 2308.5 2327.1" y="1438.0">XIII</text>
<text x="2272.4 2310.5 2327.4" y="1777.4">XII</text>
<text x="2286.1 2327.1" y="2061.3">VI</text>
<text x="2248.7 2285.9 2323.2" y="2409.0">XXI</text>
<text x="2274.4 2311.6" y="2530.6">XX</text>
<text x="2253.7 2293.8 2310.5 2329.3" y="2593.6">VIII</text>
<text x="2250.5 2288.5 2328.6" y="2655.6">XVI</text>
<text x="2323.2" y="2814.2">I</text>
<text x="2310.3 2328.8" y="2974.6">II</text>
<text x="2308.0" y="3046.5">X</text>
<text x="2289.6 2308.5" y="3121.6">IX</text>
<text x="2293.4 2312.4 2330.9" y="3188.6">III</text>
<text x="2292.8 2330.9" y="3250.8">XI</text>
<text x="2289.6 2308.9" y="3332.4">IV</text>
</g>
</g>
</svg></body></html>
